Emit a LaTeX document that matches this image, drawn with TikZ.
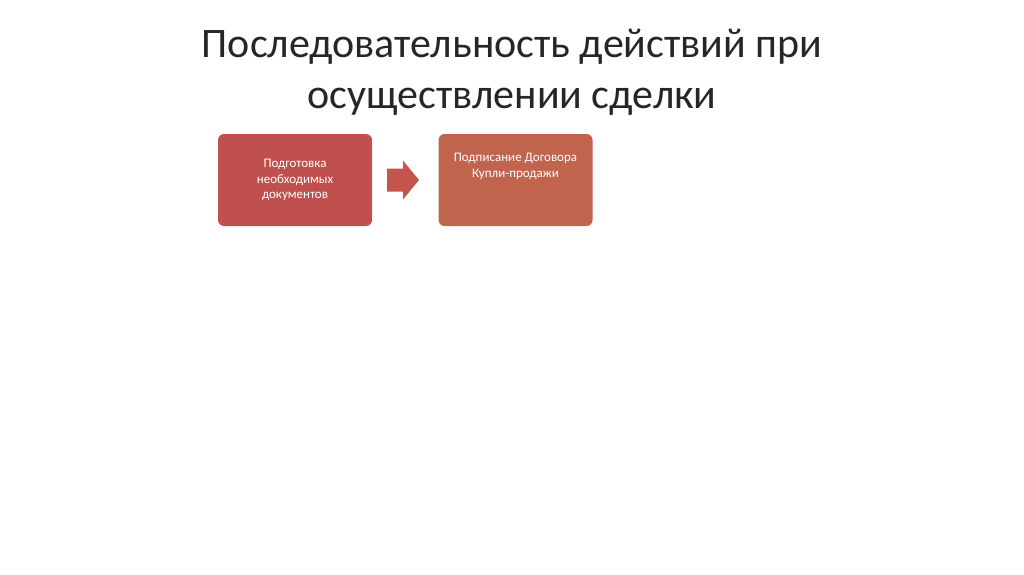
\documentclass[tikz,border=0pt]{standalone}
\usepackage{fontspec}
\setmainfont{Carlito}
\definecolor{boxa}{HTML}{C0504D}
\definecolor{boxb}{HTML}{C0644E}
\definecolor{arr}{HTML}{C3554D}
\begin{document}
\begin{tikzpicture}[x=1pt,y=-1pt,
  stepbox/.style={rounded corners=6pt,minimum width=154pt,minimum height=92pt,text=white,font=\fontsize{13}{15.5}\selectfont,align=center,inner sep=2pt}]
\useasboundingbox[fill=white] (0,0) rectangle (1024,574);
\node[font=\fontsize{42}{51}\selectfont,text=black!85,align=center] (title) at (512,72) {Последовательность действий при\\осуществлении сделки};
\node[stepbox,fill=boxa] (a) at (295,180) {Подготовка\\необходимых\\документов};
\node[stepbox,fill=boxb,anchor=center] (b) at (515.5,180) {\raisebox{0pt}[0pt][0pt]{}Подписание Договора\\Купли-продажи\\[14pt]};
\coordinate (s) at (387,180);
\fill[arr] (s) ++(0,-11.5) -- ++(16,0) -- ++(0,-8) -- ++(16,19.5) -- ++(-16,19.5) -- ++(0,-8) -- ++(-16,0) -- cycle;
\end{tikzpicture}
\end{document}
